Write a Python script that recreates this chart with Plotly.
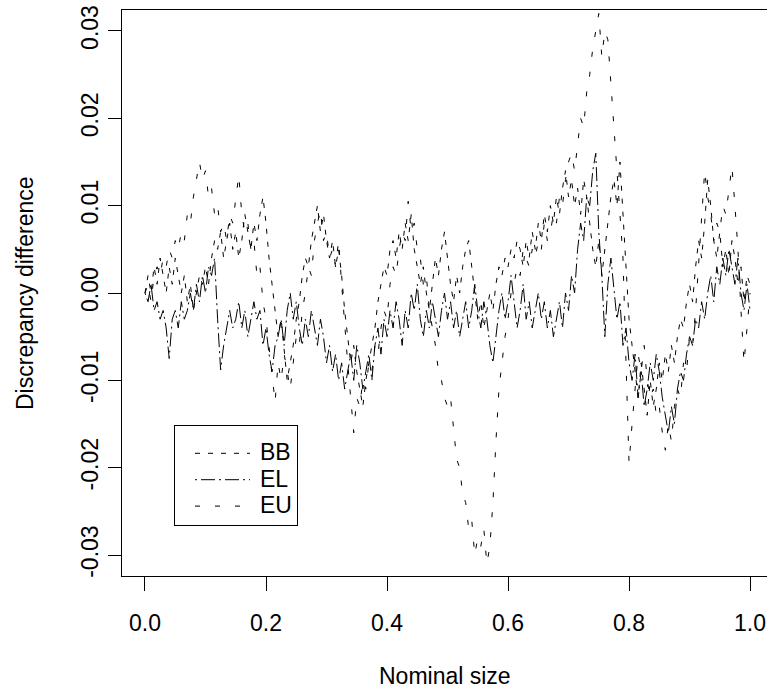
import plotly.graph_objects as go

# Nominal size grid (step 0.005 from 0 to 1)
nominal_size = [round(i * 0.005, 3) for i in range(201)]

BB = [
    0.000, 0.002, 0.000, 0.003, 0.001, 0.004, 0.002, 0.000, 0.003, 0.001,
    0.004, 0.002, 0.000, 0.002, -0.001, 0.001, -0.002, 0.000, 0.002, 0.001,
    0.003, 0.001, 0.004, 0.006, 0.005, 0.007, 0.004, 0.006, 0.008, 0.005,
    0.007, 0.004, 0.006, 0.009, 0.007, 0.005, 0.008, 0.006, 0.009, 0.011,
    0.008, 0.004, 0.001, -0.002, -0.005, -0.003, -0.007, -0.010, -0.008, -0.006,
    -0.003, -0.001, 0.002, 0.004, 0.003, 0.006, 0.008, 0.010, 0.007, 0.009,
    0.006, 0.004, 0.006, 0.003, 0.005, 0.002, -0.002, -0.005, -0.008, -0.006,
    -0.009, -0.011, -0.013, -0.010, -0.008, -0.006, -0.004, -0.001, 0.001, 0.003,
    0.002, 0.005, 0.006, 0.004, 0.007, 0.005, 0.008, 0.006, 0.009, 0.005,
    0.003, 0.001, 0.003, 0.000, -0.002, 0.001, 0.004, 0.002, 0.005, 0.007,
    0.004, 0.001, -0.001, 0.002, 0.000, 0.003, 0.005, 0.006, 0.003, 0.000,
    -0.003, -0.001, -0.004, -0.002, 0.000, -0.002, 0.001, 0.003, 0.002, 0.004,
    0.003, 0.005, 0.004, 0.006, 0.005, 0.003, 0.006, 0.004, 0.007, 0.005,
    0.008, 0.006, 0.009, 0.007, 0.010, 0.008, 0.011, 0.009, 0.012, 0.014,
    0.011, 0.013, 0.010, 0.012, 0.009, 0.013, 0.011, 0.008, 0.005, 0.003,
    0.006, 0.002, 0.005, 0.008, 0.011, 0.013, 0.010, 0.015, 0.009, 0.003,
    -0.003, -0.006, -0.009, -0.012, -0.008, -0.011, -0.014, -0.010, -0.013, -0.011,
    -0.008, -0.010, -0.007, -0.009, -0.006, -0.008, -0.005, -0.003, -0.004, -0.001,
    0.001, -0.001, 0.003, 0.006, 0.004, 0.008, 0.013, 0.010, 0.006, 0.004,
    0.007, 0.003, 0.005, 0.002, 0.006, 0.004, 0.001, 0.003, -0.001, 0.002,
    0.001,
]

EL = [
    0.000, -0.001, 0.001, -0.002, -0.001, -0.003, -0.002, -0.004, -0.0075, -0.003,
    -0.002, -0.004, -0.001, -0.003, -0.002, 0.000, -0.002, 0.001, -0.001, 0.002,
    0.000, 0.003, 0.002, 0.004, -0.003, -0.0088, -0.006, -0.004, -0.002, -0.004,
    -0.003, -0.001, -0.004, -0.002, -0.005, -0.003, -0.001, -0.003, -0.002, -0.006,
    -0.004, -0.007, -0.009, -0.006, -0.005, -0.003, -0.006, -0.002, 0.000, -0.003,
    -0.001, -0.004, -0.006, -0.003, -0.005, -0.002, -0.004, -0.006, -0.003, -0.005,
    -0.008, -0.006, -0.009, -0.007, -0.010, -0.008, -0.011, -0.009, -0.007, -0.010,
    -0.006, -0.008, -0.011, -0.009, -0.007, -0.010, -0.006, -0.004, -0.007, -0.003,
    -0.005, -0.002, -0.004, -0.001, -0.003, -0.006, -0.002, -0.004, 0.000, -0.002,
    0.001, -0.003, -0.005, -0.002, -0.004, -0.001, -0.003, -0.005, -0.002, 0.000,
    -0.003, -0.001, -0.004, -0.002, -0.005, -0.003, -0.001, -0.004, -0.002, 0.001,
    -0.002, -0.004, -0.001, -0.003, -0.006, -0.008, -0.005, -0.002, 0.000, -0.003,
    -0.001, 0.002, -0.001, -0.004, -0.002, 0.001, -0.003, -0.001, -0.004, -0.002,
    0.000, -0.003, -0.001, -0.004, -0.002, -0.005, -0.003, -0.001, -0.004, 0.000,
    -0.002, 0.002, 0.000, 0.005, 0.008, 0.006, 0.011, 0.010, 0.014, 0.016,
    0.007, 0.002, -0.005, 0.001, 0.004, 0.000, -0.003, -0.001, -0.006, -0.004,
    -0.008, -0.010, -0.007, -0.012, -0.009, -0.013, -0.011, -0.008, -0.010, -0.007,
    -0.009, -0.012, -0.014, -0.016, -0.013, -0.015, -0.011, -0.009, -0.010, -0.007,
    -0.005, -0.006, -0.003, -0.004, -0.001, -0.003, 0.000, 0.002, -0.001, 0.003,
    0.001, 0.004, 0.002, 0.005, 0.003, 0.001, 0.004, 0.000, -0.002, 0.001,
    -0.002,
]

EU = [
    0.000, 0.001, -0.001, 0.002, 0.003, 0.002, 0.004, 0.003, 0.005, 0.004,
    0.006, 0.005, 0.007, 0.006, 0.009, 0.008, 0.011, 0.013, 0.015, 0.013,
    0.014, 0.011, 0.012, 0.009, 0.010, 0.007, 0.008, 0.006, 0.009, 0.008,
    0.011, 0.0135, 0.009, 0.007, 0.008, 0.005, 0.006, 0.002, 0.003, -0.001,
    -0.003, -0.006, -0.009, -0.0125, -0.008, -0.010, -0.007, -0.009, -0.011, -0.008,
    -0.005, -0.006, -0.002, 0.000, 0.003, 0.002, 0.006, 0.008, 0.0095, 0.006,
    0.007, 0.004, 0.005, 0.003, 0.006, 0.001, -0.004, -0.008, -0.012, -0.016,
    -0.012, -0.013, -0.010, -0.011, -0.008, -0.009, -0.006, -0.007, -0.004, -0.002,
    -0.003, 0.001, 0.003, 0.002, 0.005, 0.007, 0.006, 0.0105, 0.007, 0.008,
    0.005, 0.004, 0.001, 0.002, -0.002, -0.004, -0.006, -0.009, -0.010, -0.012,
    -0.013, -0.012, -0.016, -0.019, -0.020, -0.023, -0.024, -0.027, -0.026, -0.030,
    -0.028, -0.029, -0.027, -0.031, -0.029, -0.024, -0.017, -0.011, -0.008, -0.005,
    -0.003, 0.000, 0.001, 0.003, 0.002, 0.005, 0.004, 0.003, 0.005, 0.004,
    0.006, 0.005, 0.008, 0.006, 0.007, 0.009, 0.008, 0.011, 0.010, 0.013,
    0.015, 0.016, 0.014, 0.017, 0.020, 0.019, 0.023, 0.025, 0.028, 0.030,
    0.032, 0.027, 0.030, 0.029, 0.024, 0.020, 0.015, 0.010, 0.004, -0.008,
    -0.0195, -0.015, -0.011, -0.007, -0.009, -0.006, -0.010, -0.012, -0.011, -0.014,
    -0.013, -0.016, -0.018, -0.015, -0.017, -0.013, -0.011, -0.012, -0.008, -0.009,
    -0.005, -0.006, -0.002, 0.003, 0.008, 0.014, 0.011, 0.009, 0.006, 0.008,
    0.007, 0.010, 0.009, 0.012, 0.0145, 0.010, 0.005, -0.002, -0.008, -0.004,
    0.000,
]

x_tick_vals = [0.0, 0.2, 0.4, 0.6, 0.8, 1.0]
x_tick_text = ["0.0", "0.2", "0.4", "0.6", "0.8", "1.0"]
y_tick_vals = [-0.03, -0.02, -0.01, 0.0, 0.01, 0.02, 0.03]
y_tick_text = ["-0.03", "-0.02", "-0.01", "0.00", "0.01", "0.02", "0.03"]

FONT = "Liberation Sans, Arial, Helvetica, sans-serif"
FS = 23

fig = go.Figure()
series = [("BB", BB, "5px,8px"), ("EL", EL, "2px,4px,14px,4px"), ("EU", EU, "5px,15px")]
for name, vals, dash in series:
    fig.add_trace(go.Scatter(
        x=nominal_size, y=vals, mode="lines",
        name="\u00a0<span style='font-size:23px'>" + name + "</span>",
        line=dict(color="black", width=1, dash=dash),
    ))

fig.update_layout(
    width=767, height=692, autosize=False,
    margin=dict(l=122, r=0, t=10, b=116, pad=0),
    paper_bgcolor="white", plot_bgcolor="white",
    font=dict(family=FONT, size=FS, color="black"),
    showlegend=True,
    legend=dict(
        x=(174 - 122) / 645, y=(576 - 425) / 566, xanchor="left", yanchor="top",
        bgcolor="white", bordercolor="black", borderwidth=1,
        font=dict(family=FONT, size=18, color="black"),
        title=dict(text="\u00a0", font=dict(size=7)),
        tracegroupgap=0, itemwidth=55, indentation=15,
    ),
    xaxis=dict(
        range=[-0.038, 1.028], showgrid=False, zeroline=False, automargin=False,
        showline=True, linecolor="black", linewidth=1, mirror=True,
        ticks="outside", ticklen=14, tickwidth=1, tickcolor="black",
        tickvals=x_tick_vals, ticktext=x_tick_text, ticklabelstandoff=12,
        ticklabeloverflow="allow",
    ),
    yaxis=dict(
        range=[-0.0324, 0.0324], showgrid=False, zeroline=False, automargin=False,
        showline=True, linecolor="black", linewidth=1, mirror=False,
        ticks="outside", ticklen=13, tickwidth=1, tickcolor="black",
        tickvals=y_tick_vals, ticktext=y_tick_text, tickangle=-90,
        ticklabelstandoff=1, ticklabeloverflow="allow",
    ),
    annotations=[
        dict(text="Nominal size", xref="paper", yref="paper", x=0.5, y=(576 - 676) / 566,
             xanchor="center", yanchor="middle", showarrow=False,
             font=dict(family=FONT, size=FS)),
        dict(text="Discrepancy difference", xref="paper", yref="paper",
             x=(25 - 122) / 645, y=0.5, xanchor="center", yanchor="middle",
             textangle=-90, showarrow=False, font=dict(family=FONT, size=FS)),
    ],
)

fig.write_html(
    "out.html",
    config={"displayModeBar": False},
    post_script="document.body.style.margin='0';document.body.style.overflow='hidden';",
)
